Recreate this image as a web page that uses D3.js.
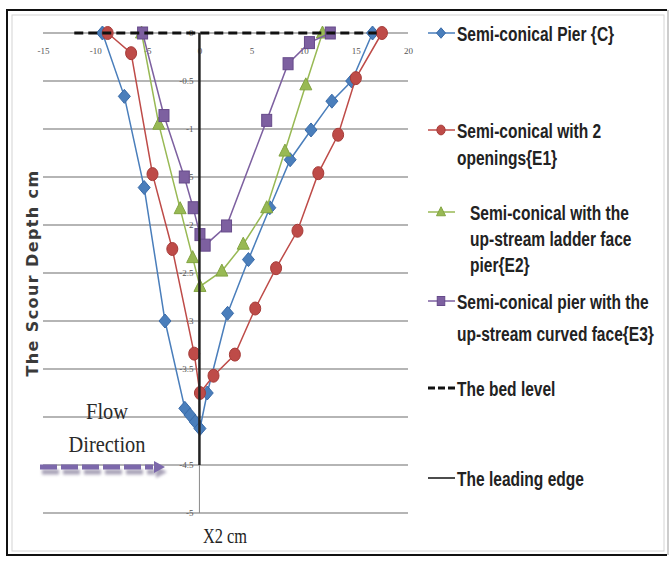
<!DOCTYPE html>
<html>
<head>
<meta charset="utf-8">
<script src="https://cdn.jsdelivr.net/npm/d3@7"></script>
<style>
  body { margin: 0; background: #fff; }
  svg { display: block; }
</style>
</head>
<body>
<svg id="chart"></svg>
<script>
// axis ticks
const xTicks = [-15, -10, -5, 0, 5, 10, 15, 20]
const yTicks = [0, -0.5, -1, -1.5, -2, -2.5, -3, -3.5, -4, -4.5, -5]

// Semi-conical Pier {C}
const cX = [-9.3, -7.2, -5.3, -3.3, -1.4, -0.9, -0.4, 0.05, 0.75, 2.7, 4.7, 6.75, 8.7, 10.7, 12.7, 14.6, 16.6]
const cY = [0, -0.66, -1.61, -3.0, -3.91, -3.98, -4.05, -4.12, -3.75, -2.92, -2.36, -1.82, -1.32, -1.01, -0.71, -0.5, 0]

// Semi-conical with 2 openings {E1}
const e1X = [-8.8, -6.55, -4.5, -2.6, -0.5, 0.05, 1.35, 3.4, 5.35, 7.35, 9.4, 11.4, 13.3, 15.0, 17.5]
const e1Y = [0, -0.21, -1.47, -2.25, -3.34, -3.75, -3.57, -3.35, -2.87, -2.45, -2.06, -1.46, -1.06, -0.47, 0]

// Semi-conical with the up-stream ladder face pier {E2}
const e2X = [-5.55, -3.9, -1.85, -0.65, 0.05, 2.15, 4.2, 6.45, 8.2, 10.2, 11.8]
const e2Y = [0, -0.95, -1.83, -2.34, -2.64, -2.48, -2.2, -1.82, -1.23, -0.54, 0]

// Semi-conical pier with the up-stream curved face {E3}
const e3X = [-5.45, -3.4, -1.45, -0.6, 0.05, 0.55, 2.6, 6.45, 8.5, 10.55, 12.55]
const e3Y = [0, -0.86, -1.5, -1.82, -2.1, -2.21, -2.01, -0.91, -0.32, -0.1, 0]

// reference lines
const bedX = [-12, 17]
const bedY = [0, 0]
const edgeX = [0, 0]
const edgeY = [0, -4.5]

const seriesNames = [
    ["Semi-conical Pier {C}"],
    ["Semi-conical with 2", "openings{E1}"],
    ["Semi-conical with the", "up-stream ladder face", "pier{E2}"],
    ["Semi-conical pier with the", "up-stream curved face{E3}"],
    ["The bed level"],
    ["The leading edge"]
]

const w = 671
const h = 562

const svg = d3.select("#chart")
    .attr("width", w)
    .attr("height", h)

//Scales
const xScale = d3.scaleLinear().domain([-15, 20]).range([43, 408])
const yScale = d3.scaleLinear().domain([-5, 0]).range([513, 33])

//Frame
svg.append("rect")
    .attr("x", 12).attr("y", 15)
    .attr("width", 652).attr("height", 536)
    .attr("fill", "none")
    .attr("stroke", "#d4d4d4")
svg.append("path")
    .attr("d", "M667,10 H7 V555 H667")
    .attr("fill", "none")
    .attr("stroke", "#111")
    .attr("stroke-width", 2)
svg.append("path")
    .attr("d", "M668,10 V555")
    .attr("stroke", "#bdbdbd")
    .attr("stroke-width", 1.5)

//Gridlines
svg.append("g")
    .selectAll("line")
    .data(yTicks)
    .enter()
    .append("line")
    .attr("x1", xScale(-15))
    .attr("x2", xScale(20))
    .attr("y1", d => yScale(d))
    .attr("y2", d => yScale(d))
    .attr("stroke", "#9c9c9c")
    .attr("stroke-width", 1.4)

//vertical axis line
svg.append("line")
    .attr("x1", xScale(0)).attr("x2", xScale(0))
    .attr("y1", yScale(0)).attr("y2", yScale(-5))
    .attr("stroke", "#8a8a8a")
    .attr("stroke-width", 1)

//Axes
const bottomAxis = d3.axisBottom(xScale)
    .tickValues(xTicks)
    .tickSize(0)
    .tickPadding(15)
    .tickFormat(d => String(d))

const leftAxis = d3.axisLeft(yScale)
    .tickValues(yTicks)
    .tickSize(0)
    .tickPadding(6)
    .tickFormat(d => String(d))

const gx = svg.append("g")
    .attr("transform", `translate(0, ${yScale(0)})`)
    .call(bottomAxis)
const gy = svg.append("g")
    .attr("transform", `translate(${xScale(0)}, 0)`)
    .call(leftAxis)

;[gx, gy].forEach(g => {
    g.select(".domain").remove()
    g.selectAll("text")
        .attr("fill", "#555")
        .style("font-family", "'Liberation Serif', serif")
        .style("font-size", "9px")
})

//Series
const series = [
    { xs: cX, ys: cY, color: "#4a7ebb", dark: "#386aa8", marker: "diamond" },
    { xs: e1X, ys: e1Y, color: "#be4b48", dark: "#a63b38", marker: "circle" },
    { xs: e2X, ys: e2Y, color: "#98b954", dark: "#82a441", marker: "triangle" },
    { xs: e3X, ys: e3Y, color: "#7d60a0", dark: "#664a8a", marker: "square" }
]

const line = d3.line()
    .x(d => xScale(d[0]))
    .y(d => yScale(d[1]))

function drawMarker(g, type, color, dark, x, y, s) {
    if (type === "circle") {
        g.append("ellipse")
            .attr("cx", x).attr("cy", y)
            .attr("rx", 5.5 * s).attr("ry", 6.5 * s)
            .attr("fill", color).attr("stroke", dark)
    } else if (type === "square") {
        g.append("rect")
            .attr("x", x - 5 * s).attr("y", y - 6 * s)
            .attr("width", 10 * s).attr("height", 12 * s)
            .attr("fill", color).attr("stroke", dark)
    } else if (type === "diamond") {
        g.append("path")
            .attr("d", `M${x},${y - 7 * s} L${x + 6 * s},${y} L${x},${y + 7 * s} L${x - 6 * s},${y} Z`)
            .attr("fill", color).attr("stroke", dark)
    } else {
        g.append("path")
            .attr("d", `M${x},${y - 7 * s} L${x + 6 * s},${y + 5 * s} L${x - 6 * s},${y + 5 * s} Z`)
            .attr("fill", color).attr("stroke", dark)
    }
}

series.forEach(s => {
    const pts = s.xs.map((x, i) => [x, s.ys[i]])
    const g = svg.append("g")
    g.append("path")
        .datum(pts)
        .attr("d", line)
        .attr("fill", "none")
        .attr("stroke", s.color)
        .attr("stroke-width", 1.5)
    pts.forEach(p => drawMarker(g, s.marker, s.color, s.dark, xScale(p[0]), yScale(p[1]), 1))
})

//Bed level
svg.append("path")
    .datum(bedX.map((x, i) => [x, bedY[i]]))
    .attr("d", line)
    .attr("stroke", "#111")
    .attr("stroke-width", 3)
    .attr("stroke-dasharray", "9,5")

//Leading edge
svg.append("path")
    .datum(edgeX.map((x, i) => [x, edgeY[i]]))
    .attr("d", line)
    .attr("stroke", "#222")
    .attr("stroke-width", 2.5)

//Axis titles
svg.append("text")
    .attr("transform", "translate(38, 273) rotate(-90)")
    .attr("text-anchor", "middle")
    .attr("fill", "#3a3a3a")
    .style("font-family", "'DejaVu Sans', sans-serif")
    .style("font-weight", "bold")
    .style("font-size", "16px")
    .style("letter-spacing", "1.4px")
    .text("The Scour Depth cm")

svg.append("text")
    .attr("transform", "translate(225, 543) scale(0.78, 1)")
    .attr("text-anchor", "middle")
    .attr("fill", "#222")
    .style("font-family", "'Liberation Serif', serif")
    .style("font-size", "21px")
    .text("X2 cm")

//Flow direction note
const flow = svg.append("g")
flow.append("text")
    .attr("transform", "translate(107, 419) scale(0.85, 1)")
    .attr("text-anchor", "middle")
    .attr("fill", "#2a2a2a")
    .style("font-family", "'Liberation Serif', serif")
    .style("font-size", "24px")
    .text("Flow")
flow.append("text")
    .attr("transform", "translate(107, 452) scale(0.85, 1)")
    .attr("text-anchor", "middle")
    .attr("fill", "#2a2a2a")
    .style("font-family", "'Liberation Serif', serif")
    .style("font-size", "24px")
    .text("Direction")

const defs = svg.append("defs")
defs.append("filter")
    .attr("id", "shadow")
    .append("feGaussianBlur")
    .attr("stdDeviation", 1.8)

const arrowParts = (g, dx, dy, color) => {
    g.append("line")
        .attr("x1", 40 + dx).attr("x2", 153 + dx)
        .attr("y1", 467 + dy).attr("y2", 467 + dy)
        .attr("stroke", color)
        .attr("stroke-width", 5)
        .attr("stroke-dasharray", "17,4")
    g.append("path")
        .attr("d", `M${154 + dx},${461 + dy} L${165 + dx},${467 + dy} L${154 + dx},${473 + dy} Z`)
        .attr("fill", color)
}
arrowParts(flow.append("g").attr("filter", "url(#shadow)"), 2, 5, "#a9a3b8")
arrowParts(flow.append("g"), 0, 0, "#7c68ab")

//Legend
const legendY = [[33], [130, 157], [212, 238, 264], [301, 333], [388], [478]]
const legendIndent = [0, 0, 13, 0, 0, 0]
const legend = svg.append("g").attr("id", "legend")

seriesNames.forEach((lines, i) => {
    const cy = legendY[i][0]
    if (i < 4) {
        const s = series[i]
        legend.append("line")
            .attr("x1", 428).attr("x2", 455)
            .attr("y1", cy).attr("y2", cy)
            .attr("stroke", s.color)
            .attr("stroke-width", 1.5)
        drawMarker(legend, s.marker, s.color, s.dark, 441, cy, 0.75)
    } else if (i === 4) {
        legend.append("line")
            .attr("x1", 428).attr("x2", 455)
            .attr("y1", cy).attr("y2", cy)
            .attr("stroke", "#111")
            .attr("stroke-width", 3)
            .attr("stroke-dasharray", "7,3")
    } else {
        legend.append("line")
            .attr("x1", 428).attr("x2", 455)
            .attr("y1", cy).attr("y2", cy)
            .attr("stroke", "#111")
            .attr("stroke-width", 1.5)
    }
    lines.forEach((t, j) => {
        legend.append("text")
            .attr("transform", `translate(${457 + legendIndent[i]}, ${legendY[i][j]}) scale(0.74, 1)`)
            .attr("dy", "0.36em")
            .attr("fill", "#222")
            .style("font-family", "'Liberation Sans', sans-serif")
            .style("font-weight", "bold")
            .style("font-size", "21px")
            .text(t)
    })
})
</script>
</body>
</html>
